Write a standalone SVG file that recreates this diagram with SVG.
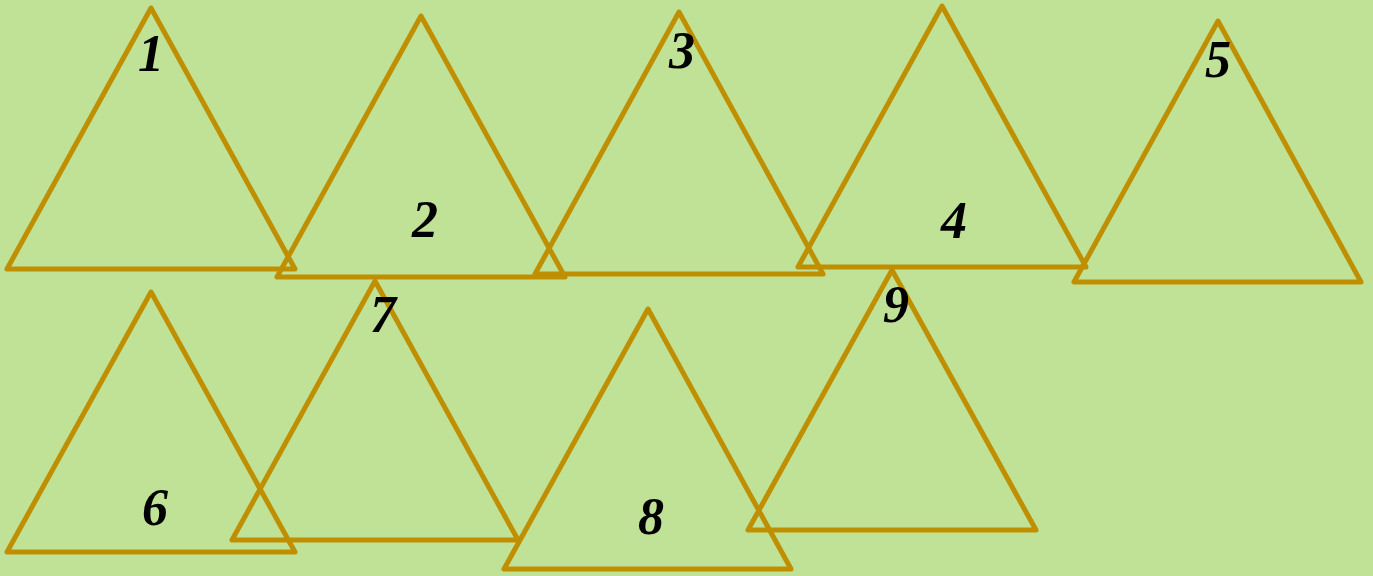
<svg xmlns="http://www.w3.org/2000/svg" width="1373" height="576" viewBox="0 0 1373 576">
<style>
.tri{fill:none;stroke:#BF8F00;stroke-width:5;stroke-linejoin:round;stroke-linecap:round}
.lbl{font-family:"Liberation Serif","DejaVu Serif",serif;font-style:italic;font-weight:bold;font-size:52px;fill:#000;text-anchor:middle}
</style>
<rect x="0" y="0" width="1373" height="576" fill="#C0E296"/>
<g id="node1"><polygon class="tri" points="151,8 7,269 295,269"/><text class="lbl" x="151" y="71">1</text></g>
<g id="node2"><polygon class="tri" points="421,16 277,277 565,277"/><text class="lbl" x="425" y="237">2</text></g>
<g id="node3"><polygon class="tri" points="679,12 535,274 823,274"/><text class="lbl" x="682" y="68">3</text></g>
<g id="node4"><polygon class="tri" points="942,6 798,267 1086,267"/><text class="lbl" x="954" y="238">4</text></g>
<g id="node5"><polygon class="tri" points="1218,21 1074,282 1361,282"/><text class="lbl" x="1218" y="77">5</text></g>
<g id="node6"><polygon class="tri" points="151,292 7,552 295,552"/><text class="lbl" x="155" y="525">6</text></g>
<g id="node7"><polygon class="tri" points="375,281 232,540 518,540"/><text class="lbl" x="383" y="332">7</text></g>
<g id="node8"><polygon class="tri" points="648,309 504,569 791,569"/><text class="lbl" x="651" y="534">8</text></g>
<g id="node9"><polygon class="tri" points="892,270 748,530 1036,530"/><text class="lbl" x="896" y="322">9</text></g>
<g id="connectors"></g>
</svg>
